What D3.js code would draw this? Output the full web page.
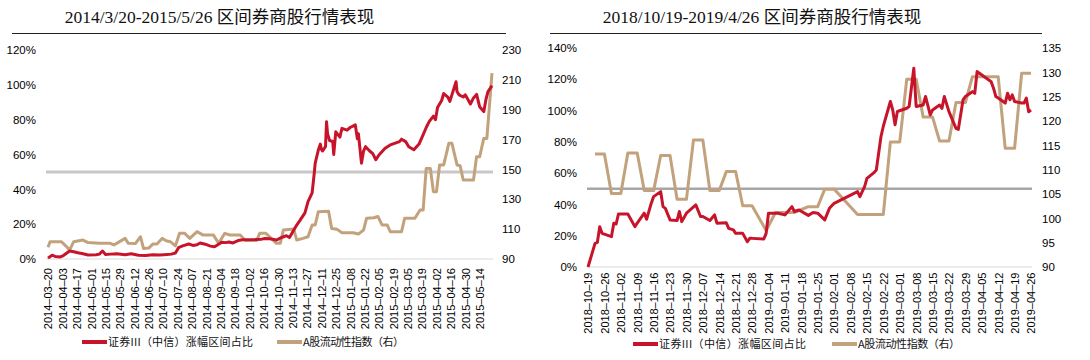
<!DOCTYPE html>
<html><head><meta charset="utf-8">
<script src="https://cdn.jsdelivr.net/npm/d3@7"></script>
<style>
html,body{margin:0;padding:0;background:#fff;}
svg{display:block;}
</style></head>
<body>
<svg id="chart" width="1090" height="360"></svg>
<script>
// ---------------- DATA ----------------
const leftTitle = "2014/3/20-2015/5/26 区间券商股行情表现";
const rightTitle = "2018/10/19-2019/4/26 区间券商股行情表现";
const seriesNames = ["证券III（中信）涨幅区间占比", "A股流动性指数（右）"];

const leftTickDates = ["2014-03-20","2014-04-03","2014-04-17","2014-05-01","2014-05-15","2014-05-29","2014-06-12","2014-06-26","2014-07-10","2014-07-24","2014-08-07","2014-08-21","2014-09-04","2014-09-18","2014-10-02","2014-10-16","2014-10-30","2014-11-13","2014-11-27","2014-12-11","2014-12-25","2015-01-08","2015-01-22","2015-02-05","2015-02-19","2015-03-05","2015-03-19","2015-04-02","2015-04-16","2015-04-30","2015-05-14"];
const leftPctTicks = [0,20,40,60,80,100,120];
const leftIdxTicks = [90,110,130,150,170,190,210,230];

const leftRedDates = ["2014-03-20","2014-03-24","2014-03-27","2014-04-01","2014-04-04","2014-04-10","2014-04-14","2014-04-18","2014-04-22","2014-04-28","2014-05-06","2014-05-09","2014-05-12","2014-05-15","2014-05-20","2014-05-26","2014-06-03","2014-06-09","2014-06-16","2014-06-23","2014-06-30","2014-07-07","2014-07-14","2014-07-18","2014-07-22","2014-07-25","2014-07-29","2014-08-04","2014-08-08","2014-08-12","2014-08-15","2014-08-20","2014-08-25","2014-08-29","2014-09-02","2014-09-05","2014-09-09","2014-09-12","2014-09-16","2014-09-22","2014-09-26","2014-10-08","2014-10-14","2014-10-17","2014-10-22","2014-10-28","2014-11-03","2014-11-07","2014-11-10","2014-11-13","2014-11-17","2014-11-20","2014-11-25","2014-11-28","2014-12-02","2014-12-04","2014-12-05","2014-12-08","2014-12-10","2014-12-11","2014-12-12","2014-12-15","2014-12-16","2014-12-17","2014-12-19","2014-12-22","2014-12-23","2014-12-25","2014-12-29","2014-12-31","2015-01-05","2015-01-08","2015-01-13","2015-01-15","2015-01-16","2015-01-19","2015-01-21","2015-01-23","2015-01-27","2015-01-30","2015-02-02","2015-02-05","2015-02-11","2015-02-16","2015-02-25","2015-02-27","2015-03-03","2015-03-06","2015-03-11","2015-03-16","2015-03-19","2015-03-23","2015-03-26","2015-03-30","2015-04-01","2015-04-03","2015-04-07","2015-04-09","2015-04-13","2015-04-15","2015-04-21","2015-04-22","2015-04-24","2015-04-28","2015-04-30","2015-05-05","2015-05-08","2015-05-11","2015-05-14","2015-05-18","2015-05-20","2015-05-22","2015-05-26"];
const leftRedValues = [0.5,2.2,1.5,1.2,2.0,4.6,4.2,3.6,3.2,2.3,2.4,2.8,4.6,2.6,2.8,3.0,2.4,3.0,2.2,2.0,2.5,2.3,2.6,2.8,3.4,6.5,7.5,8.6,7.8,8.2,9.2,8.5,7.4,7.0,8.5,9.6,9.4,9.8,9.2,10.8,11.0,11.2,11.4,11.8,11.6,10.9,12.5,13.4,12.3,15.5,19.5,22.0,26.5,33.0,38.0,49.0,55.0,62.5,66.0,63.0,62.0,64.5,78.8,72.0,68.0,67.5,60.0,73.0,70.0,75.0,74.0,75.5,77.0,69.0,72.0,55.0,62.0,64.5,62.0,60.5,57.0,59.7,63.6,65.5,67.4,68.8,67.4,64.5,62.7,66.0,70.0,75.5,79.0,82.0,80.0,87.0,91.0,95.0,93.0,90.5,101.8,96.0,94.2,93.0,94.3,89.0,92.5,94.5,87.4,84.6,91.3,96.0,99.5];

const leftIdxDates = ["2014-03-20","2014-03-22","2014-04-02","2014-04-07","2014-04-10","2014-04-14","2014-04-23","2014-04-28","2014-05-09","2014-05-19","2014-05-23","2014-05-27","2014-06-03","2014-06-06","2014-06-13","2014-06-18","2014-06-21","2014-06-26","2014-06-30","2014-07-04","2014-07-09","2014-07-13","2014-07-17","2014-07-22","2014-07-26","2014-07-31","2014-08-05","2014-08-12","2014-08-18","2014-08-28","2014-09-02","2014-09-08","2014-09-13","2014-09-23","2014-09-28","2014-10-09","2014-10-12","2014-10-18","2014-10-25","2014-10-28","2014-11-01","2014-11-04","2014-11-14","2014-11-17","2014-11-23","2014-11-28","2014-12-02","2014-12-05","2014-12-08","2014-12-18","2014-12-21","2014-12-26","2014-12-31","2015-01-11","2015-01-16","2015-01-21","2015-01-24","2015-01-31","2015-02-04","2015-02-08","2015-02-13","2015-02-16","2015-02-27","2015-03-02","2015-03-12","2015-03-17","2015-03-20","2015-03-23","2015-03-27","2015-03-30","2015-04-02","2015-04-05","2015-04-09","2015-04-14","2015-04-17","2015-04-22","2015-04-25","2015-04-28","2015-05-08","2015-05-11","2015-05-14","2015-05-18","2015-05-21","2015-05-26"];
const leftIdxValues = [97.8,101.6,101.6,98.3,96.0,101.6,102.7,101.0,100.6,100.6,99.4,101.0,103.8,100.6,100.3,104.9,97.0,97.3,100.0,100.0,103.8,102.2,101.6,98.8,107.2,107.2,103.8,108.3,106.0,106.0,100.6,107.2,106.1,106.1,102.4,102.4,107.2,107.2,102.7,100.5,100.5,109.4,110.1,102.7,103.8,104.9,112.8,112.8,121.7,122.0,110.5,110.0,107.6,107.6,106.7,109.4,117.3,117.6,118.5,112.8,112.8,108.3,108.3,117.3,117.3,122.8,122.8,150.7,150.7,135.1,135.1,153.0,153.0,167.5,167.5,153.0,152.5,142.9,142.9,158.5,158.5,170.8,170.8,214.5];

const rightTickDates = ["2018-10-19","2018-10-26","2018-11-02","2018-11-09","2018-11-16","2018-11-23","2018-11-30","2018-12-07","2018-12-14","2018-12-21","2018-12-28","2019-01-04","2019-01-11","2019-01-18","2019-01-25","2019-02-01","2019-02-08","2019-02-15","2019-02-22","2019-03-01","2019-03-08","2019-03-15","2019-03-22","2019-03-29","2019-04-05","2019-04-12","2019-04-19","2019-04-26"];
const rightPctTicks = [0,20,40,60,80,100,120,140];
const rightIdxTicks = [90,95,100,105,110,115,120,125,130,135];

const rightRedDates = ["2018-10-19","2018-10-22","2018-10-23","2018-10-24","2018-10-25","2018-10-29","2018-10-30","2018-10-31","2018-11-01","2018-11-05","2018-11-08","2018-11-09","2018-11-12","2018-11-13","2018-11-15","2018-11-16","2018-11-19","2018-11-20","2018-11-21","2018-11-23","2018-11-26","2018-11-27","2018-11-28","2018-11-30","2018-12-04","2018-12-06","2018-12-07","2018-12-10","2018-12-12","2018-12-13","2018-12-17","2018-12-18","2018-12-20","2018-12-21","2018-12-24","2018-12-26","2018-12-27","2018-12-28","2019-01-02","2019-01-03","2019-01-04","2019-01-08","2019-01-11","2019-01-14","2019-01-15","2019-01-17","2019-01-21","2019-01-23","2019-01-25","2019-01-28","2019-01-30","2019-02-01","2019-02-11","2019-02-12","2019-02-14","2019-02-15","2019-02-18","2019-02-19","2019-02-21","2019-02-22","2019-02-25","2019-02-26","2019-02-27","2019-02-28","2019-03-04","2019-03-05","2019-03-07","2019-03-08","2019-03-11","2019-03-12","2019-03-14","2019-03-15","2019-03-18","2019-03-19","2019-03-20","2019-03-22","2019-03-25","2019-03-26","2019-03-28","2019-03-29","2019-04-01","2019-04-02","2019-04-03","2019-04-04","2019-04-08","2019-04-09","2019-04-10","2019-04-11","2019-04-12","2019-04-15","2019-04-16","2019-04-17","2019-04-18","2019-04-19","2019-04-22","2019-04-23","2019-04-24","2019-04-25","2019-04-26"];
const rightRedValues = [0,15.1,15.8,25.8,21.5,19.4,28.0,27.5,33.9,33.9,25.8,28.0,34.4,30.5,40.8,45.0,48.2,38.6,37.5,30.1,29.7,35.5,29.0,34.4,39.7,32.3,32.3,29.7,33.3,28.0,28.3,24.7,23.7,21.5,21.5,16.2,18.3,18.3,17.9,21.5,34.4,34.4,33.3,38.6,35.5,36.4,33.0,34.8,34.4,30.1,37.5,40.7,48.2,45.0,51.4,56.7,60.3,62.0,83.4,90.0,105.8,100.5,90.9,99.4,101.5,102.6,127.1,102.6,103.6,109.0,97.2,100.4,103.5,101.4,109.0,99.3,88.6,88.0,106.8,109.0,112.1,111.0,124.9,123.9,119.6,118.5,114.3,109.0,108.0,104.8,111.1,106.9,110.0,105.8,104.8,104.8,108.0,99.3,100.4];

const rightIdxDates = ["2018-10-22","2018-10-26","2018-10-29","2018-11-02","2018-11-05","2018-11-09","2018-11-12","2018-11-16","2018-11-19","2018-11-23","2018-11-26","2018-11-30","2018-12-03","2018-12-07","2018-12-10","2018-12-14","2018-12-17","2018-12-21","2018-12-24","2018-12-28","2019-01-03","2019-01-07","2019-01-15","2019-01-21","2019-01-25","2019-01-28","2019-02-01","2019-02-11","2019-02-22","2019-02-25","2019-03-01","2019-03-04","2019-03-08","2019-03-11","2019-03-15","2019-03-18","2019-03-22","2019-03-25","2019-03-29","2019-04-01","2019-04-12","2019-04-15","2019-04-19","2019-04-22","2019-04-26"];
const rightIdxValues = [113.2,113.2,105.1,105.1,113.4,113.4,105.7,105.7,112.9,112.9,103.9,103.9,116.1,116.1,105.7,105.7,109.6,109.6,102.6,102.6,97.5,101.2,101.2,102.4,102.4,106.0,106.0,100.8,100.8,115.7,115.7,128.6,128.6,120.8,120.8,115.9,115.9,123.8,123.8,129.1,129.1,114.4,114.4,129.8,129.8];

// ---------------- DRAW ----------------
const parse = d3.timeParse("%Y-%m-%d");
const RED = "#C8142B", TAN = "#C2A27C";
const svg = d3.select("#chart");
const tickFont = "'Liberation Sans Narrow','Liberation Sans',Arial,sans-serif";
const labFont = "'Liberation Sans',Arial,sans-serif";
const cjkFont = "'Liberation Serif','Noto Sans CJK SC',serif";
const legFont = "'Noto Sans CJK SC','Liberation Sans',sans-serif";

function zip(ds, vs){ return ds.map((d,i)=>({date:parse(d), v:vs[i]})); }

function panel(o){
  const g = svg.append("g");
  // title + rule
  g.append("text").attr("x", o.titleX).attr("y", 22.5).attr("text-anchor","middle")
    .style("font-family", cjkFont).style("font-size","17.5px").attr("fill","#111").text(o.title);
  g.append("line").attr("x1", o.ruleX[0]).attr("x2", o.ruleX[1]).attr("y1",33.5).attr("y2",33.5)
    .attr("stroke","#222").attr("stroke-width",1.2);

  const x = d3.scaleTime().domain([parse(o.ticks[0]), parse(o.end)]).range(o.xr);
  const yL = d3.scaleLinear().domain([o.pct[0], o.pct[o.pct.length-1]]).range([o.y0, o.y1]);
  const yR = d3.scaleLinear().domain([o.idx[0], o.idx[o.idx.length-1]]).range([o.y0, o.y1]);

  // left axis
  const al = g.append("g").attr("transform",`translate(${o.lx},0)`)
    .call(d3.axisLeft(yL).tickValues(o.pct).tickSize(0).tickPadding(0).tickFormat(d=>d+"%"));
  al.select(".domain").remove();
  al.selectAll("text").style("font-family",tickFont).style("font-size","11.5px").attr("fill","#000");
  // right axis
  const ar = g.append("g").attr("transform",`translate(${o.rx},0)`)
    .call(d3.axisRight(yR).tickValues(o.idx).tickSize(0).tickPadding(0));
  ar.select(".domain").remove();
  ar.selectAll("text").style("font-family",tickFont).style("font-size","11.5px").attr("fill","#000");
  // bottom axis
  const ab = g.append("g").attr("transform",`translate(0,${o.y0})`)
    .call(d3.axisBottom(x).tickValues(o.ticks.map(parse)).tickSizeInner(0).tickSizeOuter(0)
      .tickFormat(d3.timeFormat("%Y–%m–%d")));
  ab.select(".domain").attr("stroke","#D9D9D9").attr("stroke-width",1.2)
    .attr("d", `M${o.baseX[0]},0H${o.baseX[1]}`);
  ab.selectAll("text").attr("transform","rotate(-90)").attr("text-anchor","end")
    .attr("x", -o.labGap).attr("y",0).attr("dy","0.35em")
    .style("font-family",labFont).style("font-size","11px").attr("fill","#000");

  // 50% reference line
  g.append("line").attr("x1",o.baseX[0]).attr("x2",o.baseX[1])
    .attr("y1",yL(50)).attr("y2",yL(50)).attr("stroke",o.refColor).attr("stroke-width",o.refW);

  const lineL = d3.line().x(d=>x(d.date)).y(d=>yL(d.v));
  const lineR = d3.line().x(d=>x(d.date)).y(d=>yR(d.v));
  g.append("path").datum(zip(o.idxDates,o.idxValues)).attr("d",lineR)
    .attr("fill","none").attr("stroke",TAN).attr("stroke-width",3).attr("stroke-linejoin","round");
  g.append("path").datum(zip(o.redDates,o.redValues)).attr("d",lineL)
    .attr("fill","none").attr("stroke",RED).attr("stroke-width",3).attr("stroke-linejoin","round");

  // legend
  const lg = g.append("g");
  [[RED,seriesNames[0],o.leg[0],o.legW[0]],[TAN,seriesNames[1],o.leg[1],o.legW[1]]].forEach(([c,t,lx,w])=>{
    lg.append("line").attr("x1",lx).attr("x2",lx+25).attr("y1",o.legY).attr("y2",o.legY)
      .attr("stroke",c).attr("stroke-width",4);
    lg.append("text").attr("x",lx+26).attr("y",o.legY).attr("dy","0.36em")
      .attr("textLength", w).attr("lengthAdjust","spacing")
      .style("font-family",legFont).style("font-size","11px").attr("fill","#111").text(t);
  });
}

panel({title:leftTitle, titleX:219.5, ruleX:[12,506], ticks:leftTickDates, end:"2015-05-26",
  xr:[48,492], baseX:[46,493], y0:259, y1:50, pct:leftPctTicks, idx:leftIdxTicks,
  lx:36, rx:502, labGap:9, refColor:"#C8C8C8", refW:3,
  redDates:leftRedDates, redValues:leftRedValues, idxDates:leftIdxDates, idxValues:leftIdxValues,
  leg:[82,277], legW:[145,101], legY:342});

panel({title:rightTitle, titleX:762, ruleX:[550,1042], ticks:rightTickDates, end:"2019-04-26",
  xr:[588,1031], baseX:[587,1032], y0:267, y1:48, pct:rightPctTicks, idx:rightIdxTicks,
  lx:577, rx:1042, labGap:5.5, refColor:"#A6A6A6", refW:2.5,
  redDates:rightRedDates, redValues:rightRedValues, idxDates:rightIdxDates, idxValues:rightIdxValues,
  leg:[633,832], legW:[147,102], legY:344});
</script>
</body></html>
